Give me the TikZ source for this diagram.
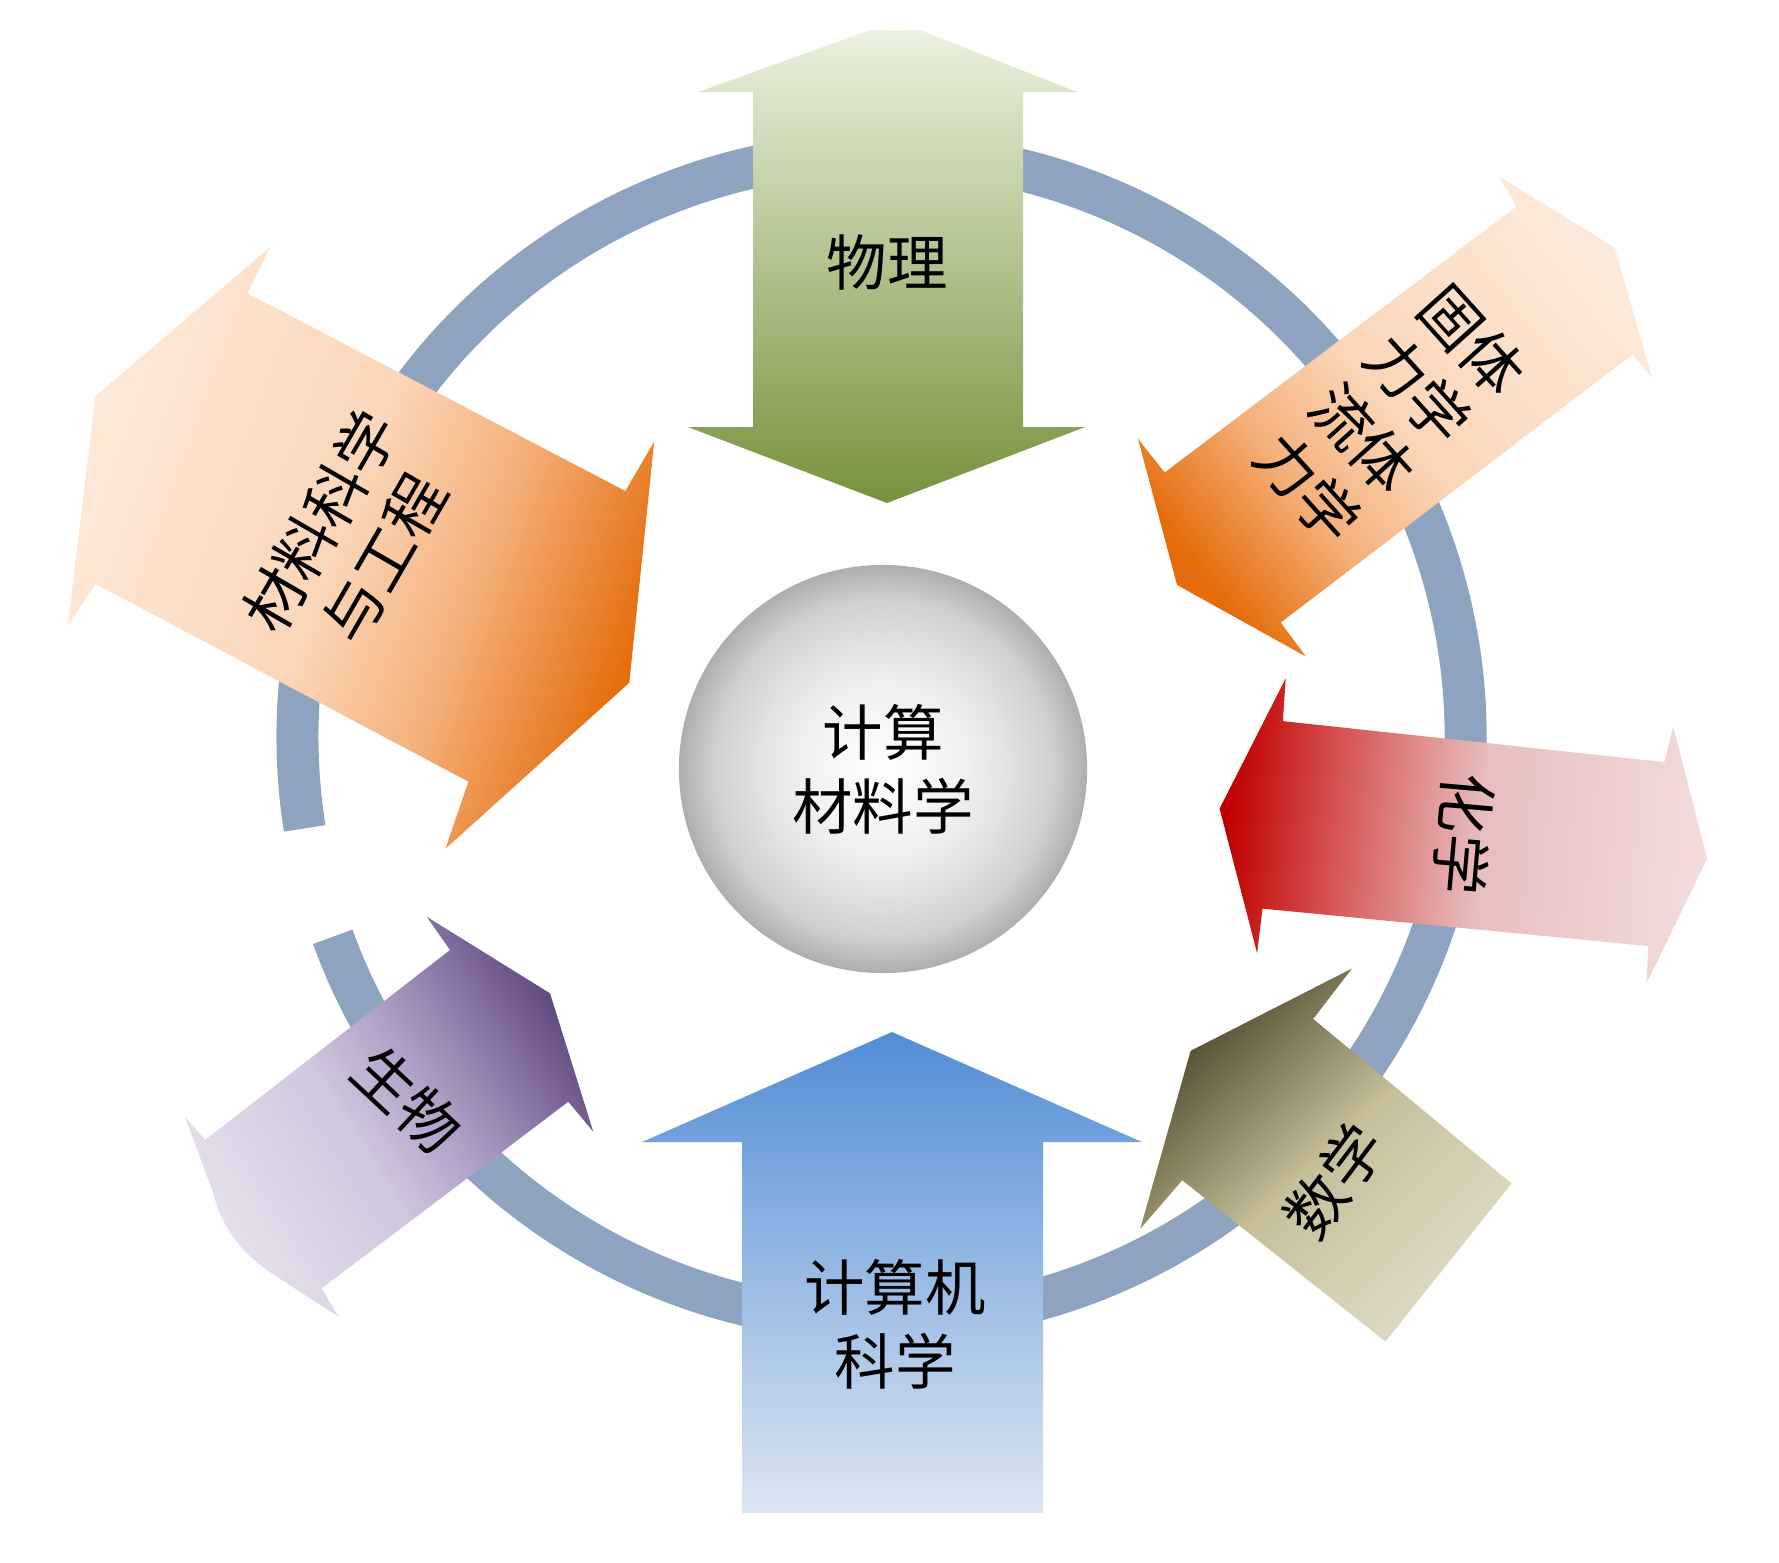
\documentclass[tikz,border=0pt]{standalone}
\usepackage{fontspec}
\newfontfamily\cjk{Noto Sans CJK SC}
\usepackage{tikz}

\definecolor{ringblue}{HTML}{8DA3BF}
\definecolor{physhi}{HTML}{EBF1DE}
\definecolor{physmid}{HTML}{DEE9C8}
\definecolor{physlo}{HTML}{76923C}
\definecolor{comphi}{HTML}{538DD5}
\definecolor{compmid}{HTML}{BED4F0}
\definecolor{complo}{HTML}{DCE6F2}
\definecolor{orgdark}{HTML}{E46C0A}
\definecolor{orgmid}{HTML}{F4B07A}
\definecolor{orgpeach}{HTML}{FBD6B8}
\definecolor{orglight}{HTML}{FDE9D9}
\definecolor{chemdark}{HTML}{C00000}
\definecolor{chemone}{HTML}{D55050}
\definecolor{chemtwo}{HTML}{E19696}
\definecolor{chemthree}{HTML}{E8BEBE}
\definecolor{chemlight}{HTML}{F2DCDB}
\definecolor{mathdark}{HTML}{4F4A2E}
\definecolor{mathone}{HTML}{8C8663}
\definecolor{mathtwo}{HTML}{C6BF9A}
\definecolor{maththree}{HTML}{D3CDB0}
\definecolor{mathlight}{HTML}{DDD9C4}
\definecolor{biolight}{HTML}{E5E0EC}
\definecolor{bioone}{HTML}{D0C6DF}
\definecolor{biotwo}{HTML}{B3A2C8}
\definecolor{biothree}{HTML}{8C78A8}
\definecolor{biodark}{HTML}{604A7B}

% gradients for the tilted arrows (colour runs along the arrow)
\pgfdeclarehorizontalshading{matshade}{100bp}{color(0bp)=(orglight); color(25bp)=(orglight);
  color(48bp)=(orgpeach); color(60bp)=(orgmid); color(75bp)=(orgdark); color(100bp)=(orgdark)}
\pgfdeclarehorizontalshading{solidshade}{100bp}{color(0bp)=(orgdark); color(25bp)=(orgdark);
  color(38bp)=(orgmid); color(50bp)=(orgpeach); color(75bp)=(orglight); color(100bp)=(orglight)}
\pgfdeclarehorizontalshading{chemshade}{100bp}{color(0bp)=(chemdark); color(25bp)=(chemdark);
  color(36bp)=(chemone); color(46bp)=(chemtwo); color(52bp)=(chemthree); color(75bp)=(chemlight); color(100bp)=(chemlight)}
\pgfdeclarehorizontalshading{mathshade}{100bp}{color(0bp)=(mathdark); color(25bp)=(mathdark);
  color(38bp)=(mathone); color(50bp)=(mathtwo); color(62bp)=(maththree); color(75bp)=(mathlight); color(100bp)=(mathlight)}
\pgfdeclarehorizontalshading{bioshade}{100bp}{color(0bp)=(biolight); color(25bp)=(biolight);
  color(45bp)=(bioone); color(55bp)=(biotwo); color(65bp)=(biothree); color(75bp)=(biodark); color(100bp)=(biodark)}
\pgfdeclareradialshading{spheresh}{\pgfpoint{0bp}{0bp}}{color(0bp)=(white); color(9bp)=(black!5);
  color(15bp)=(black!11); color(21bp)=(black!19); color(25bp)=(black!32); color(50bp)=(black!32)}

\begin{document}
\begin{tikzpicture}[
    x=0.01cm, y=0.01cm,
    ring/.style={draw=ringblue, line width=4.2mm},
    subject/.style={font=\cjk\fontsize{17.2}{21}\selectfont, align=center, inner sep=0pt},
    hub/.style={circle, shade, shading=spheresh, minimum size=4.08cm, inner sep=0pt}
  ]
  \useasboundingbox (0,0) rectangle (1779,-1562);

  % ring, open on the left
  \coordinate (ringc) at (881.5,-737);
  \draw[ring] (ringc) ++(200:584) arc[start angle=200, end angle=549, radius=584];

  % top: physics
  \shade[top color=physhi, middle color=physmid, bottom color=physlo]
    (698,-92) -- (870,-30) -- (920,-30) -- (1077,-92) -- (1023,-92) -- (1023,-427)
    -- (1085,-427) -- (887,-503) -- (688,-427) -- (753,-427) -- (753,-92) -- cycle;
  \node[subject] (phys) at (887,-262) {物理};

  % bottom: computer science
  \shade[top color=comphi, middle color=compmid, bottom color=complo]
    (892,-1032) -- (1142,-1142) -- (1043,-1142) -- (1043,-1513)
    -- (742,-1513) -- (742,-1142) -- (642,-1142) -- cycle;
  \node[subject] (comp) at (895,-1324) {计算机\\科学};

  % upper left: materials science and engineering
  \shade[shading=matshade, shading angle=-20]
    (269.5,-247.8) -- (247.7,-293.3) -- (625.3,-491) -- (654.2,-441.5) -- (629.3,-682.7)
    -- (445.4,-848.8) -- (468.4,-781.6) -- (95.5,-583.9) -- (67.8,-625.4) -- (95.5,-396) -- cycle;
  \node[subject, rotate=60] (mat) at (352,-540) {材料科学\\与工程};

  % upper right: solid and fluid mechanics
  \shade[shading=solidshade, shading angle=38]
    (1498.6,-176.1) -- (1614.6,-247.5) -- (1652.1,-377.9) -- (1632.5,-354.6) -- (1280.7,-622.5)
    -- (1305.7,-656.4) -- (1177.1,-585) -- (1137.9,-438.6) -- (1164.6,-472.5) -- (1516.4,-206.4) -- cycle;
  \node[subject, rotate=-48] (mech) at (1390,-414) {固体\\力学\\流体\\力学};

  % right: chemistry
  \shade[shading=chemshade, shading angle=-5]
    (1219.6,-808.6) -- (1285.7,-678.2) -- (1282.9,-721.1) -- (1664.3,-762.1) -- (1673.2,-726.4)
    -- (1707.1,-858.6) -- (1646.4,-983.6) -- (1648.2,-946.1) -- (1262.5,-908.6) -- (1257.1,-953.2) -- cycle;
  \node[subject, rotate=-95] (chem) at (1464,-834) {化学};

  % lower right: mathematics
  \shade[shading=mathshade, shading angle=-46]
    (1351.9,-968.5) -- (1313.2,-1018.9) -- (1511.5,-1183.5) -- (1385.5,-1341.5)
    -- (1182.2,-1180.2) -- (1140.2,-1228.9) -- (1190.6,-1050.8) -- cycle;
  \node[subject, rotate=53] (math) at (1334,-1181) {数学};

  % lower left: biology
  \shade[shading=bioshade, shading angle=32]
    (426.7,-916.7) -- (550,-993.3) -- (593.3,-1131.7) -- (568.3,-1101.7) -- (321.7,-1288.3)
    -- (338.3,-1316.7) -- (266.7,-1270) .. controls (240,-1250) and (222,-1228) .. (213.3,-1193.3)
    -- (185,-1116.7) -- (205,-1140) -- (450,-950) -- cycle;
  \node[subject, rotate=-43] (bio) at (407,-1100) {生物};

  % centre
  \node[hub] (core) at (883,-769) {};
  \node[subject] (corelabel) at (core) {计算\\材料学};
\end{tikzpicture}
\end{document}
